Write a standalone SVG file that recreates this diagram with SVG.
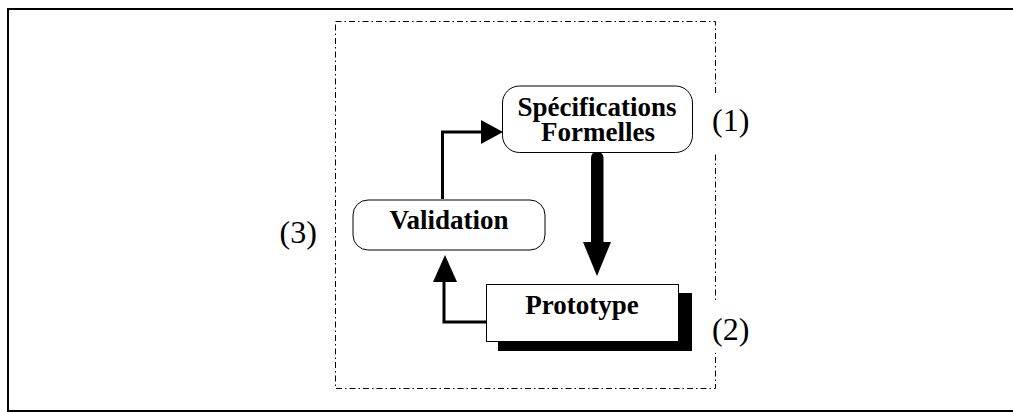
<svg xmlns="http://www.w3.org/2000/svg" width="1013" height="412" viewBox="0 0 1013 412">
<style>
text{font-family:"Liberation Serif","Times New Roman",serif;fill:#000}
.t{font-size:27px;font-weight:bold;text-anchor:middle}
.n{font-size:32px}
.b{fill:#fff;stroke:#000;stroke-width:1}
.c{fill:none;stroke:#000;stroke-width:3}
</style>
<rect width="1013" height="412" fill="#fff"/>
<path id="border" d="M1013 9H8V411H1013" fill="none" stroke="#000" stroke-width="2"/>
<rect id="frame" x="335.500" y="21.500" width="380" height="367" fill="none" stroke="#000" stroke-dasharray="6 3 1.500 3"/>
<g id="connectors">
<path class="c" d="M442.500 199V132H482"/>
<path d="M481 120L503 132L481 144Z"/>
<path d="M591 245V158Q591 152 597 152Q603.500 152 603.500 158V245Z"/>
<path d="M583 242H611L597 276Z"/>
<path class="c" d="M486 322H444V280"/>
<path d="M433 282L445 255L457 282Z"/>
</g>
<g id="spec"><rect class="b" x="502.500" y="86" width="190" height="66.500" rx="17"/><text class="t" x="597" y="116">Spécifications</text><text class="t" x="598" y="141">Formelles</text></g>
<g id="validation"><rect class="b" x="353" y="200" width="192" height="50" rx="15"/><text class="t" x="449" y="229">Validation</text></g>
<g id="prototype"><rect x="498" y="293" width="194" height="58"/><rect class="b" x="486.500" y="284.500" width="192" height="57"/><text class="t" x="582" y="314">Prototype</text></g>
<g id="labels">
<rect x="705" y="95" width="50" height="57" fill="#fff"/>
<rect x="705" y="303" width="50" height="50" fill="#fff"/>
<text class="n" x="712" y="131">(1)</text>
<text class="n" x="712" y="340">(2)</text>
<text class="n" x="279.500" y="243">(3)</text>
</g>
</svg>
